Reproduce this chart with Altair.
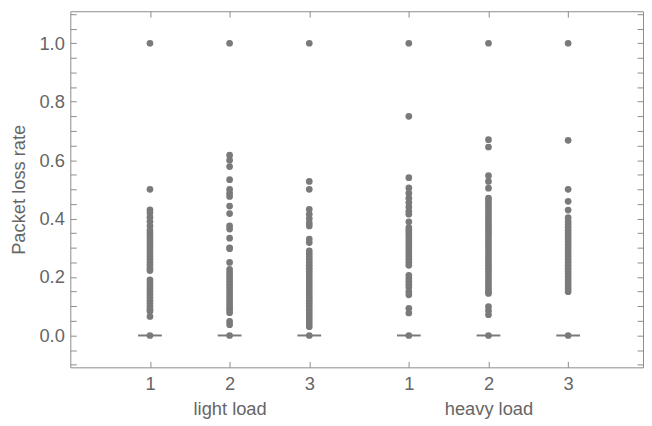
import altair as alt
import pandas as pd

# ---- data ----
positions = [1, 2, 3, 4.25, 5.25, 6.25]
tick_text = ["1", "2", "3", "1", "2", "3"]
group_names = ["light load", "heavy load"]
group_centers = [2, 5.25]

light_1 = [1.0, 0.50, 0.43, 0.42, 0.405, 0.39, 0.375, 0.36, 0.35, 0.34, 0.33, 0.32,
           0.31, 0.30, 0.29, 0.28, 0.27, 0.26, 0.25, 0.24, 0.23, 0.222, 0.19, 0.18,
           0.17, 0.16, 0.15, 0.14, 0.13, 0.12, 0.11, 0.10, 0.09, 0.083, 0.065, 0.0]
light_2 = [1.0, 0.617, 0.60, 0.578, 0.533, 0.50, 0.487, 0.476, 0.443, 0.417, 0.375,
           0.364, 0.333, 0.30, 0.297, 0.25, 0.226, 0.215, 0.205, 0.195, 0.185, 0.175,
           0.165, 0.155, 0.145, 0.135, 0.125, 0.115, 0.105, 0.095, 0.088, 0.078,
           0.048, 0.037, 0.0]
light_3 = [1.0, 0.527, 0.50, 0.432, 0.415, 0.40, 0.385, 0.375, 0.33, 0.318, 0.29,
           0.28, 0.27, 0.26, 0.25, 0.24, 0.23, 0.22, 0.21, 0.20, 0.19, 0.18, 0.17,
           0.16, 0.15, 0.14, 0.13, 0.12, 0.11, 0.10, 0.09, 0.08, 0.07, 0.06, 0.05,
           0.04, 0.03, 0.0]
heavy_1 = [1.0, 0.75, 0.54, 0.505, 0.487, 0.47, 0.455, 0.44, 0.425, 0.415, 0.389,
           0.369, 0.36, 0.35, 0.34, 0.33, 0.32, 0.31, 0.30, 0.29, 0.28, 0.27, 0.26,
           0.25, 0.24, 0.206, 0.195, 0.185, 0.175, 0.165, 0.15, 0.139, 0.093, 0.077, 0.0]
heavy_2 = [1.0, 0.67, 0.645, 0.547, 0.527, 0.504, 0.47, 0.46, 0.45, 0.44, 0.43, 0.42,
           0.41, 0.40, 0.39, 0.38, 0.37, 0.36, 0.35, 0.34, 0.33, 0.32, 0.31, 0.30,
           0.29, 0.28, 0.27, 0.26, 0.25, 0.24, 0.23, 0.22, 0.21, 0.20, 0.19, 0.18,
           0.17, 0.16, 0.15, 0.144, 0.099, 0.085, 0.071, 0.0]
heavy_3 = [1.0, 0.668, 0.50, 0.459, 0.429, 0.403, 0.39, 0.38, 0.37, 0.36, 0.35, 0.34,
           0.33, 0.32, 0.31, 0.30, 0.29, 0.28, 0.27, 0.26, 0.25, 0.24, 0.23, 0.22,
           0.21, 0.20, 0.19, 0.18, 0.17, 0.16, 0.15, 0.0]
medians = [0.0, 0.0, 0.0, 0.0, 0.0, 0.0]

y_ticks = [-0.1, -0.05, 0.0, 0.05, 0.1, 0.15, 0.2, 0.25, 0.3, 0.35, 0.4, 0.45, 0.5,
           0.55, 0.6, 0.65, 0.7, 0.75, 0.8, 0.85, 0.9, 0.95, 1.0, 1.05, 1.1]
y_major = [0.0, 0.2, 0.4, 0.6, 0.8, 1.0]

# ---- tables ----
series = [light_1, light_2, light_3, heavy_1, heavy_2, heavy_3]
rows = []
for p, vals in zip(positions, series):
    for v in vals:
        rows.append({"pos": p, "value": v})
points_df = pd.DataFrame(rows)
box_df = pd.DataFrame({"pos": positions, "median": medians})

# label expression: tick number, plus group name under the middle tick
expr = "''"
for p, t in reversed(list(zip(positions, tick_text))):
    if p in group_centers:
        lab = "['%s', '%s']" % (t, group_names[group_centers.index(p)])
    else:
        lab = "'%s'" % t
    expr = "datum.value == %s ? %s : (%s)" % (p, lab, expr)

major_list = "[" + ",".join(str(v) for v in y_major) + "]"
y_label_expr = "indexof(%s, datum.value) >= 0 ? format(datum.value, '.1f') : ''" % major_list

FONT = "Liberation Sans"
TXT = "#666666"
FRAME = "#8c8c8c"
DOT = "#7a7a7a"
TICK = 6
FS = 18.5

xscale = alt.Scale(domain=[0, 7.19], nice=False, zero=False)
yscale = alt.Scale(domain=[-0.109, 1.1095], nice=False, zero=False)

points = alt.Chart(points_df).mark_circle(size=46, color=DOT, opacity=1).encode(
    x=alt.X("pos:Q", scale=xscale, axis=alt.Axis(
        orient="bottom", values=positions, labelExpr=expr, offset=-TICK,
        tickSize=TICK, tickColor=FRAME, domain=False, grid=False, title=None,
        labelFont=FONT, labelFontSize=FS, labelColor=TXT, labelPadding=7,
        labelLineHeight=26, labelOverlap=False, labelFlush=False)),
    y=alt.Y("value:Q", scale=yscale, axis=alt.Axis(
        orient="left", values=y_ticks, labelExpr=y_label_expr, offset=-TICK,
        tickSize=TICK, tickColor=FRAME, domain=False, grid=False,
        title="Packet loss rate", titleFont=FONT, titleFontSize=FS,
        titleFontWeight="normal", titleColor=TXT, titlePadding=11,
        labelFont=FONT, labelFontSize=FS, labelColor=TXT, labelPadding=6,
        labelOverlap=False, labelFlush=False)),
)

boxes = alt.Chart(box_df).mark_tick(orient="horizontal", size=24, thickness=2,
                                    color=DOT, opacity=1).encode(
    x=alt.X("pos:Q", scale=xscale, axis=alt.Axis(
        orient="top", values=positions, labels=False, offset=-TICK,
        tickSize=TICK, tickColor=FRAME, domain=False, grid=False, title=None)),
    y=alt.Y("median:Q", scale=yscale, axis=alt.Axis(
        orient="right", values=y_ticks, labels=False, offset=-TICK,
        tickSize=TICK, tickColor=FRAME, domain=False, grid=False, title=None)),
)

chart = alt.layer(points, boxes).resolve_axis(x="independent", y="independent").properties(
    width=579, height=360,
    autosize=alt.AutoSizeParams(type="none"),
    padding={"left": 63, "top": 1, "right": 1, "bottom": 55},
).configure_view(stroke=FRAME, strokeWidth=1)

chart.save("out.html", embed_options={"renderer": "svg", "actions": False})
